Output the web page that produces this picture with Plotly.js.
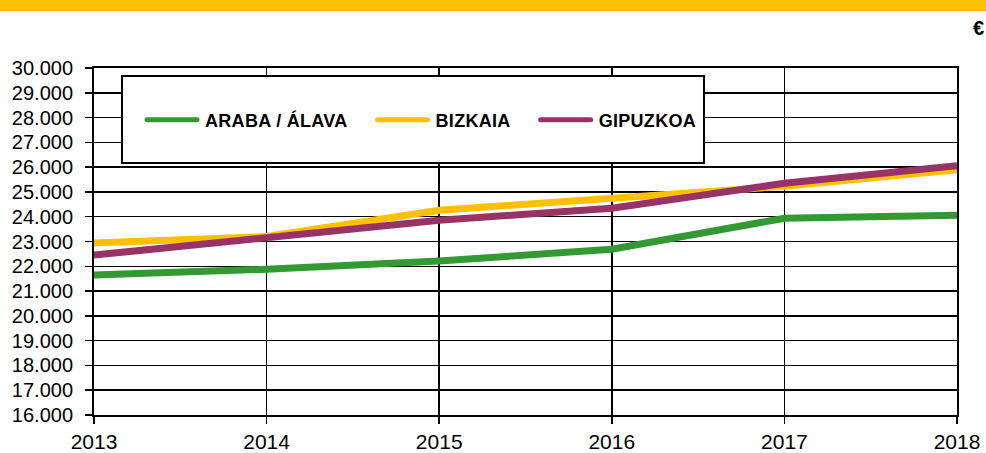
<!DOCTYPE html>
<html>
<head>
<meta charset="utf-8">
<script src="https://cdn.plot.ly/plotly-3.0.1.min.js"></script>
<style>
html,body{margin:0;padding:0;background:#fff;}
#chart{width:986px;height:453px;}
.legendtext{letter-spacing:0.3px;}
</style>
</head>
<body>
<div id="chart"></div>
<script>
var years = [2013, 2014, 2015, 2016, 2017, 2018];
var seriesNames = ["ARABA / ÁLAVA", "BIZKAIA", "GIPUZKOA"];
var araba = [21650, 21880, 22210, 22690, 23940, 24060];
var bizkaia = [22940, 23200, 24260, 24750, 25230, 25900];
var gipuzkoa = [22450, 23170, 23860, 24340, 25350, 26060];
var yTicks = [16000,17000,18000,19000,20000,21000,22000,23000,24000,25000,26000,27000,28000,29000,30000];
var unitLabel = "€";

var colors = ["#339933", "#FFC000", "#993366"];
var values = [araba, bizkaia, gipuzkoa];

var L = 94, R = 29, T = 68, B = 38, W = 986, H = 453;
var pw = W - L - R, ph = H - T - B;
function px2x(p){ return (p - L) / pw; }
function py2y(p){ return (H - B - p) / ph; }

var traces = values.map(function(v, i){
  return {
    type: "scatter", mode: "lines", name: seriesNames[i],
    x: years, y: v,
    line: {color: colors[i], width: 7},
    cliponaxis: false
  };
});
var layout = {
  width: W, height: H,
  margin: {l: L, r: R, t: T, b: B},
  paper_bgcolor: "#fff", plot_bgcolor: "#fff",
  separators: ",.",
  font: {family: "Liberation Sans, Arial, sans-serif", color: "#000", size: 20},
  showlegend: true,
  legend: {
    orientation: "h",
    x: px2x(122), y: py2y(120), xanchor: "left", yanchor: "middle",
    bgcolor: "rgba(0,0,0,0)", borderwidth: 0,
    font: {family: "Liberation Sans, Arial, sans-serif", size: 18, weight: "bold", color: "#000"},
    itemwidth: 73, tracegroupgap: 0
  },
  xaxis: {
    range: [2013, 2018], tickvals: years, ticktext: years.map(String),
    showgrid: true, gridcolor: "#000", gridwidth: 1.5,
    showline: true, linecolor: "#000", linewidth: 2, mirror: true,
    ticks: "outside", ticklen: 7, tickcolor: "#000", tickwidth: 1.5,
    zeroline: false, fixedrange: true,
    tickfont: {size: 21}
  },
  yaxis: {
    range: [16000, 30000], tickvals: yTicks, tickformat: ",d",
    showgrid: true, gridcolor: "#000", gridwidth: 1.5,
    showline: true, linecolor: "#000", linewidth: 2, mirror: true,
    ticks: "outside", ticklen: 7, tickcolor: "#000", tickwidth: 1.5,
    ticklabelstandoff: 8,
    zeroline: false, fixedrange: true,
    tickfont: {size: 20}
  },
  shapes: [
    {type: "rect", xref: "paper", yref: "paper",
     x0: px2x(-5), x1: px2x(W + 5), y0: py2y(11), y1: py2y(-5),
     fillcolor: "#FFC000", line: {width: 0}, layer: "above"},
    {type: "rect", xref: "paper", yref: "paper",
     x0: px2x(122), x1: px2x(704), y0: py2y(163), y1: py2y(76),
     fillcolor: "#fff", line: {color: "#000", width: 2}, layer: "above"}
  ],
  annotations: [
    {text: unitLabel, xref: "paper", yref: "paper", x: px2x(971), y: py2y(28),
     xanchor: "left", yanchor: "middle", showarrow: false,
     font: {size: 20, weight: "bold", color: "#000"}}
  ]
};
Plotly.newPlot("chart", traces, layout, {displayModeBar: false, staticPlot: true}).then(function(gd){
  var paths = gd.querySelectorAll("g.legend g.traces path.js-line");
  paths.forEach(function(p){
    p.setAttribute("d", "M25,0h50");
    p.style.strokeWidth = "5px";
    p.style.strokeLinecap = "round";
  });
});
</script>
</body>
</html>
